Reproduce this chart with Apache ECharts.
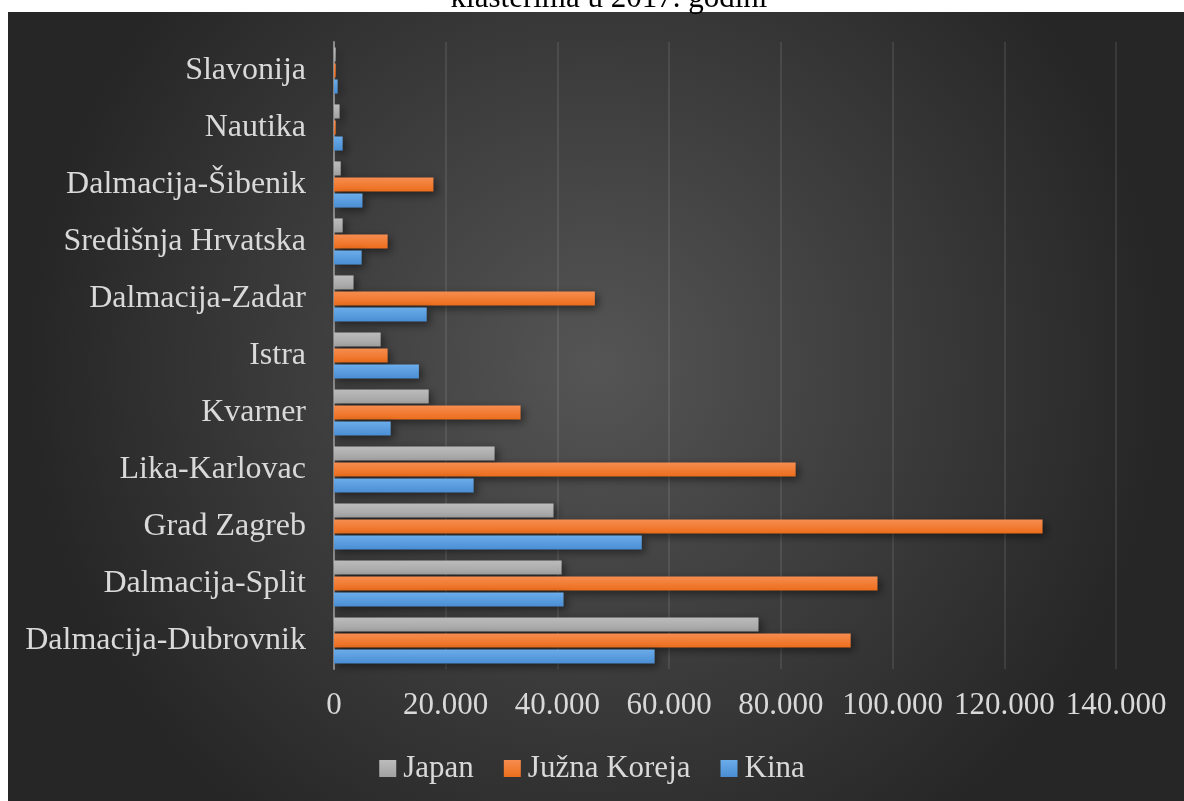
<!DOCTYPE html>
<html>
<head>
<meta charset="utf-8">
<script src="https://cdn.jsdelivr.net/npm/echarts@6/dist/echarts.min.js"></script>
<style>
    html, body { margin: 0; padding: 0; background: #fff; }
    #chart { width: 1184px; height: 801px; }
</style>
</head>
<body>
<div id="chart"></div>
<script>
    // kategorije odozdo prema gore (y os kreće od dna)
    const clusters = ['Dalmacija-Dubrovnik', 'Dalmacija-Split', 'Grad Zagreb', 'Lika-Karlovac', 'Kvarner',
        'Istra', 'Dalmacija-Zadar', 'Središnja Hrvatska', 'Dalmacija-Šibenik', 'Nautika', 'Slavonija']
    const japan = [76000, 40750, 39300, 28750, 16950, 8350, 3500, 1550, 1200, 1000, 300]
    const juznaKoreja = [92500, 97300, 126850, 82650, 33400, 9600, 46700, 9600, 17800, 300, 300]
    const kina = [57400, 41100, 55100, 25000, 10150, 15200, 16600, 4950, 5100, 1550, 650]
    const xTicks = [0, 20000, 40000, 60000, 80000, 100000, 120000, 140000]

    const font = "'Liberation Serif', 'Times New Roman', serif"
    const chartInstance = echarts.init(document.getElementById('chart'))

    function fmt(v) {
        return String(v).replace(/\B(?=(\d{3})+(?!\d))/g, '.')
    }
    function grad(top, bottom) {
        return new echarts.graphic.LinearGradient(0, 0, 0, 1, [
            { offset: 0, color: top },
            { offset: 1, color: bottom }
        ])
    }
    function barSeries(name, data, top, bottom) {
        return {
            name: name,
            type: 'bar',
            data: data,
            barGap: '14%',
            barCategoryGap: '19%',
            itemStyle: {
                color: grad(top, bottom),
                shadowColor: 'rgba(0,0,0,0.5)',
                shadowBlur: 8,
                shadowOffsetX: 3,
                shadowOffsetY: 3
            }
        }
    }

    const option = {
        animation: false,
        backgroundColor: '#fff',
        graphic: [
            {
                type: 'rect',
                z: -10,
                shape: { x: 8, y: 12, width: 1176, height: 789 },
                style: {
                    fill: new echarts.graphic.RadialGradient(0.5, 0.45, 0.72, [
                        { offset: 0, color: '#555555' },
                        { offset: 1, color: '#262626' }
                    ])
                }
            },
            {
                type: 'text',
                z: -5,
                x: 609,
                y: -1,
                style: {
                    text: 'klasterima u 2017. godini',
                    font: '31px ' + font,
                    fill: '#000',
                    align: 'center',
                    verticalAlign: 'middle'
                }
            }
        ],
        grid: {
            left: 334,
            right: 68,
            top: 42,
            bottom: 132
        },
        legend: {
            bottom: 12,
            left: 'center',
            itemWidth: 17,
            itemHeight: 17,
            itemGap: 30,
            icon: 'rect',
            textStyle: { color: '#d9d9d9', fontSize: 31, fontFamily: font, padding: [0, 0, 0, 2] },
            data: ['Japan', 'Južna Koreja', 'Kina']
        },
        xAxis: {
            type: 'value',
            min: 0,
            max: 140000,
            interval: 20000,
            axisLine: { show: false },
            axisTick: { show: false },
            axisLabel: {
                color: '#d9d9d9',
                fontSize: 31,
                fontFamily: font,
                margin: 21,
                formatter: (v) => xTicks.includes(v) ? fmt(v) : ''
            },
            splitLine: { lineStyle: { color: 'rgba(255,255,255,0.09)', width: 2 } }
        },
        yAxis: {
            type: 'category',
            data: clusters,
            axisLine: { show: true, lineStyle: { color: '#8c8c8c', width: 2 } },
            axisTick: { show: false },
            axisLabel: {
                color: '#d9d9d9',
                fontSize: 32,
                fontFamily: font,
                margin: 28
            }
        },
        series: [
            barSeries('Japan', japan, '#bcbcbc', '#a2a2a2'),
            barSeries('Južna Koreja', juznaKoreja, '#f68d50', '#ec6d1b'),
            barSeries('Kina', kina, '#6badea', '#4a8dd3')
        ]
    }
    chartInstance.setOption(option)
</script>
</body>
</html>
